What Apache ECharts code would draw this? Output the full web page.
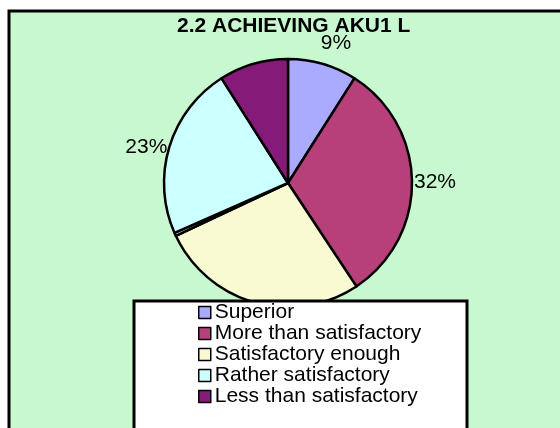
<!DOCTYPE html>
<html>
    <head>
        <meta charset="utf-8">
        <title>2.2 ACHIEVING AKU1</title>
        <script src="https://cdn.jsdelivr.net/npm/echarts@6/dist/echarts.min.js"></script>
        <style>
            html, body { margin: 0; padding: 0; background: #fff; }
        </style>
    </head>
    <body>
        <div id="chart1" style="width:560px;height:428px;"></div>
        <script type="text/javascript">
            // data (percent of answers)
            var categories = ['Superior', 'More than satisfactory', 'Satisfactory enough', 'Other', 'Rather satisfactory', 'Less than satisfactory'];
            var values = [9.0, 31.7, 27.3, 0.4, 22.6, 9.0];
            var colors = ['#aaaaff', '#b8407a', '#fafad2', '#ccffff', '#ccffff', '#861a78'];
            var legendNames = ['Superior', 'More than satisfactory', 'Satisfactory enough', 'Rather satisfactory', 'Less than satisfactory'];
            var hideLabel = ['Satisfactory enough', 'Other', 'Less than satisfactory'];

            var myChart1 = echarts.init(document.getElementById('chart1'));

            var pieData = categories.map(function (name, i) {
                var item = { name: name, value: values[i], itemStyle: { color: colors[i] } };
                if (hideLabel.indexOf(name) >= 0) {
                    item.label = { show: false };
                }
                if (name === 'Superior') {
                    item.labelLine = { length: 22, length2: 0 };
                    item.label = { distanceToLabelLine: -8 };
                }
                return item;
            });

            myChart1.setOption({
                backgroundColor: '#ffffff',
                animation: false,
                title: {
                    text: '2.2 ACHIEVING AKU1 L',
                    left: 177,
                    top: 16,
                    padding: 0,
                    textStyle: {
                        fontFamily: 'Liberation Sans',
                        fontWeight: 'bold',
                        fontSize: 21,
                        color: '#000'
                    }
                },
                graphic: [
                    {   // plot area background
                        type: 'rect',
                        z: 0,
                        shape: { x: 9, y: 11, width: 570, height: 440 },
                        style: { fill: '#c8f8d0', stroke: '#000', lineWidth: 3 }
                    },
                    {   // legend box
                        type: 'rect',
                        z: 5,
                        shape: { x: 134, y: 301, width: 333, height: 150 },
                        style: { fill: '#ffffff', stroke: '#000', lineWidth: 3 }
                    }
                ],
                legend: {
                    z: 6,
                    orient: 'vertical',
                    left: 198,
                    top: 302,
                    padding: 0,
                    itemWidth: 12,
                    itemHeight: 12,
                    itemGap: 0,
                    icon: 'rect',
                    data: legendNames,
                    itemStyle: { borderColor: '#000', borderWidth: 1.5 },
                    textStyle: {
                        fontFamily: 'Liberation Sans',
                        fontSize: 21,
                        lineHeight: 21,
                        color: '#000',
                        padding: [0, 0, 0, -1]
                    }
                },
                series: [
                    {
                        name: 'AKU1',
                        type: 'pie',
                        z: 2,
                        center: [288, 183],
                        radius: 124,
                        startAngle: 90,
                        clockwise: true,
                        avoidLabelOverlap: false,
                        silent: true,
                        itemStyle: { borderColor: '#000', borderWidth: 2.5 },
                        label: {
                            show: true,
                            position: 'outside',
                            fontFamily: 'Liberation Sans',
                            fontSize: 21,
                            color: '#000',
                            distanceToLabelLine: 2,
                            formatter: function (p) { return Math.round(p.percent) + '%'; }
                        },
                        labelLine: { show: false, length: 0, length2: 0 },
                        data: pieData
                    }
                ]
            });
        </script>
    </body>
</html>
